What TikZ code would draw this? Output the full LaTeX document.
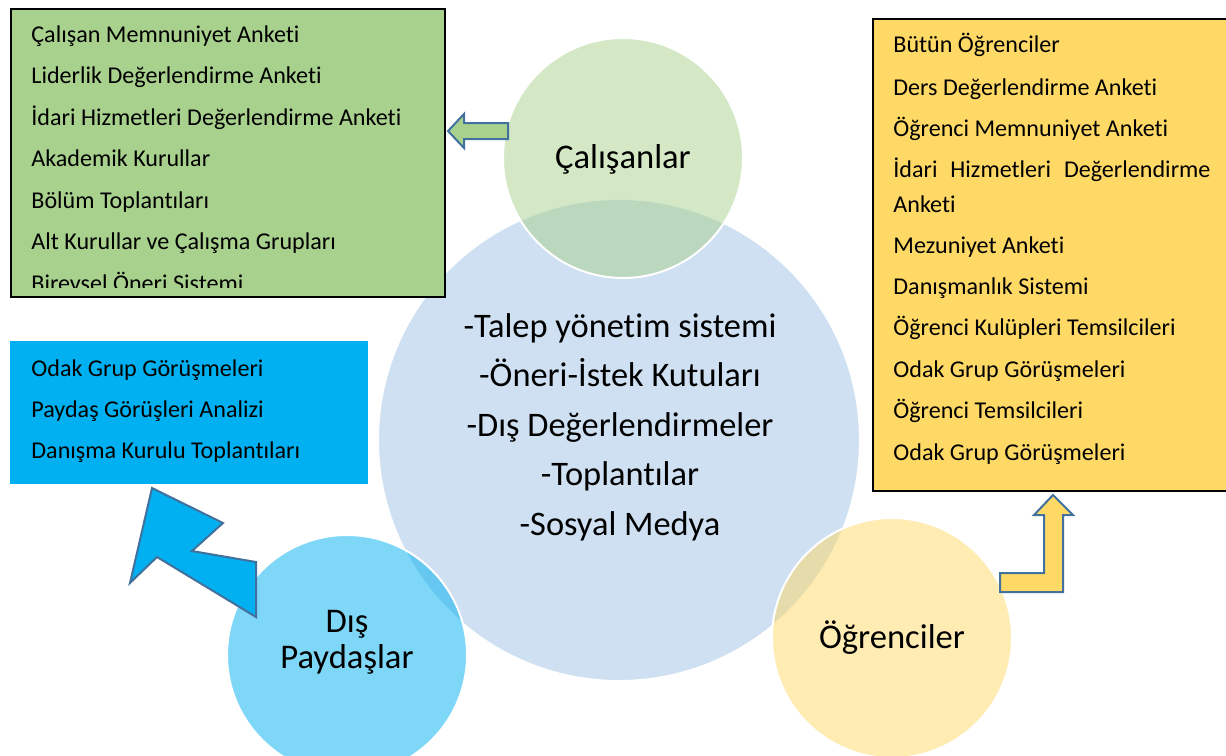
\documentclass[tikz,border=0pt]{standalone}
\usepackage{fontspec}
\setmainfont{Carlito}[Ligatures=NoCommon]
\definecolor{boxgreen}{HTML}{A9D18E}
\definecolor{boxblue}{HTML}{00B0F0}
\definecolor{boxyellow}{HTML}{FFD966}
\definecolor{hubblue}{HTML}{CEE0F1}
\definecolor{arrowline}{HTML}{41719C}
\begin{document}
\begin{tikzpicture}[x=0.5pt,y=-0.5pt,
    petal/.style={circle,draw=white,line width=1pt,fill opacity=0.5,minimum size=120pt,inner sep=0pt},
    petaltext/.style={anchor=base,inner sep=0pt,font=\fontsize{17.3}{20}\selectfont},
    listitem/.style={anchor=base west,inner sep=0pt,font=\fontsize{12.05}{14}\selectfont},
    hubitem/.style={anchor=base,inner sep=0pt,font=\fontsize{17.2}{20}\selectfont},
    blockarrow/.style={draw=arrowline,line width=1pt,line join=miter}]
  \useasboundingbox (0,0) rectangle (1226,755);

  \node[circle,fill=hubblue,draw=white,line width=1pt,minimum size=241pt,inner sep=0pt] (hub) at (619,440) {};
  \node[petal,fill=boxgreen] (calisan) at (623,158) {};
  \node[petal,fill=boxblue] (paydas) at (347,655) {};
  \node[petal,fill=boxyellow] (ogrenci) at (892,638) {};

  \draw[fill=boxgreen,line width=1pt] (11,9) rectangle (445,297);
  \fill[boxblue] (10,341) rectangle (368,484);
  \draw[fill=boxyellow,line width=1pt] (873,19) rectangle (1230,491);

  \draw[blockarrow,fill=boxgreen] (448,131) -- (464,114) -- (464,123) -- (508,123)
    -- (508,139) -- (464,139) -- (464,148) -- cycle;
  \draw[blockarrow,fill=boxblue] (152,488) -- (223,523) -- (192,551) -- (256,562)
    -- (256,617) -- (157,557) -- (130,583) -- cycle;
  \draw[blockarrow,fill=boxyellow] (1053,495) -- (1073,515) -- (1063,515) -- (1063,592)
    -- (1000,592) -- (1000,573) -- (1044,573) -- (1044,515) -- (1034,515) -- cycle;

  \begin{scope}
    \clip (11,9) rectangle (445,287);
    \foreach \t [count=\i] in {Çalışan Memnuniyet Anketi, Liderlik Değerlendirme Anketi,
        İdari Hizmetleri Değerlendirme Anketi, Akademik Kurullar, Bölüm Toplantıları,
        Alt Kurullar ve Çalışma Grupları, Bireysel Öneri Sistemi}
      \node[listitem] (calisan-\i) at (31,{42+41.5*(\i-1)}) {\t};
  \end{scope}

  \foreach \t [count=\i] in {Odak Grup Görüşmeleri, Paydaş Görüşleri Analizi,
      Danışma Kurulu Toplantıları}
    \node[listitem] (paydas-\i) at (31,{376+41*(\i-1)}) {\t};

  \foreach \t/\yy [count=\i] in {Bütün Öğrenciler/53, Ders Değerlendirme Anketi/95,
      Öğrenci Memnuniyet Anketi/136,
      {\makebox[158.5pt][s]{İdari Hizmetleri Değerlendirme}}/177, Anketi/212,
      Mezuniyet Anketi/253, Danışmanlık Sistemi/294, Öğrenci Kulüpleri Temsilcileri/335,
      Odak Grup Görüşmeleri/377, Öğrenci Temsilcileri/418, Odak Grup Görüşmeleri/460}
    \node[listitem] (ogrenci-\i) at (893,\yy) {\t};

  \foreach \t [count=\i] in {-Talep yönetim sistemi, -Öneri-İstek Kutuları,
      -Dış Değerlendirmeler, -Toplantılar, -Sosyal Medya}
    \node[hubitem] (hub-\i) at (620,{337+49.5*(\i-1)}) {\t};

  \node[petaltext] (calisan-label) at (623,168) {Çalışanlar};
  \node[petaltext] (ogrenci-label) at (892,648) {Öğrenciler};
  \node[petaltext] (paydas-label1) at (347,632) {Dış};
  \node[petaltext] (paydas-label2) at (347,668) {Paydaşlar};
\end{tikzpicture}
\end{document}
